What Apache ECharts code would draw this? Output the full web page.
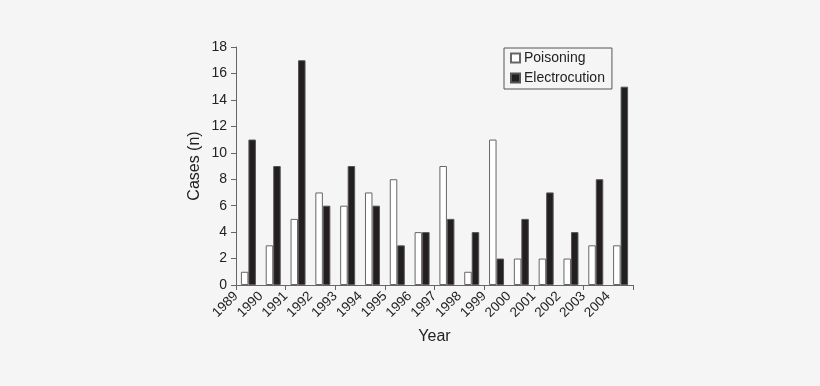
<!DOCTYPE html>
<html><head><meta charset="utf-8">
<script src="https://cdn.jsdelivr.net/npm/echarts@6/dist/echarts.min.js"></script>
<style>html,body{margin:0;padding:0;background:#f5f5f5}#c{width:820px;height:386px}</style>
</head><body><div id="c"></div>
<script>
const years = ['1989','1990','1991','1992','1993','1994','1995','1996','1997','1998','1999','2000','2001','2002','2003','2004'];
const poisoning = [1,3,5,7,6,7,8,4,9,1,11,2,2,2,3,3];
const electrocution = [11,9,17,6,9,6,3,4,5,4,2,5,7,4,8,15];
const yTicks = {min:0, max:18, interval:2};

const chart = echarts.init(document.getElementById('c'));
const font = 'Liberation Sans, Arial, sans-serif';
chart.setOption({
  backgroundColor:'#f5f5f5',
  animation:false,
  grid:{left:236, right:187, top:47, bottom:101},
  legend:{
    data:['Poisoning','Electrocution'],
    orient:'vertical', left:504, top:48,
    padding:[3,7,4,6],
    itemGap:6,
    itemWidth:9, itemHeight:9,
    borderColor:'#555', borderWidth:1,
    textStyle:{fontFamily:font, fontSize:14, color:'#222', padding:[0,0,0,-1]},
    icon:'rect'
  },
  xAxis:[{
    type:'category', data:years, position:'bottom',
    axisLine:{lineStyle:{color:'#666', width:1}},
    axisTick:{show:true, length:5, lineStyle:{color:'#666'}},
    axisLabel:{show:false},
    name:'Year', nameLocation:'middle', nameGap:44,
    nameTextStyle:{fontFamily:font, fontSize:16, color:'#222'}
  },{
    type:'category', data:years.concat(['']), position:'bottom', boundaryGap:false,
    axisLine:{show:false}, axisTick:{show:false},
    axisLabel:{rotate:45, fontFamily:font, fontSize:13.5, color:'#222', margin:9, interval:0}
  }],
  yAxis:{
    type:'value', min:yTicks.min, max:yTicks.max, interval:yTicks.interval,
    axisLine:{show:true, lineStyle:{color:'#666'}},
    axisTick:{show:true, length:5, lineStyle:{color:'#666'}},
    splitLine:{show:false},
    axisLabel:{fontFamily:font, fontSize:14, color:'#222', margin:9},
    name:'Cases (n)', nameLocation:'middle', nameGap:33,
    nameTextStyle:{fontFamily:font, fontSize:16, color:'#222'}
  },
  series:[{
    name:'Poisoning', type:'bar', data:poisoning, barWidth:7.5, barGap:'0%',
    itemStyle:{color:'#ffffff', borderColor:'#666', borderWidth:1}
  },{
    name:'Electrocution', type:'bar', data:electrocution, barWidth:7.5,
    itemStyle:{color:'#231f20', borderColor:'#555', borderWidth:1}
  }]
});
</script></body></html>
